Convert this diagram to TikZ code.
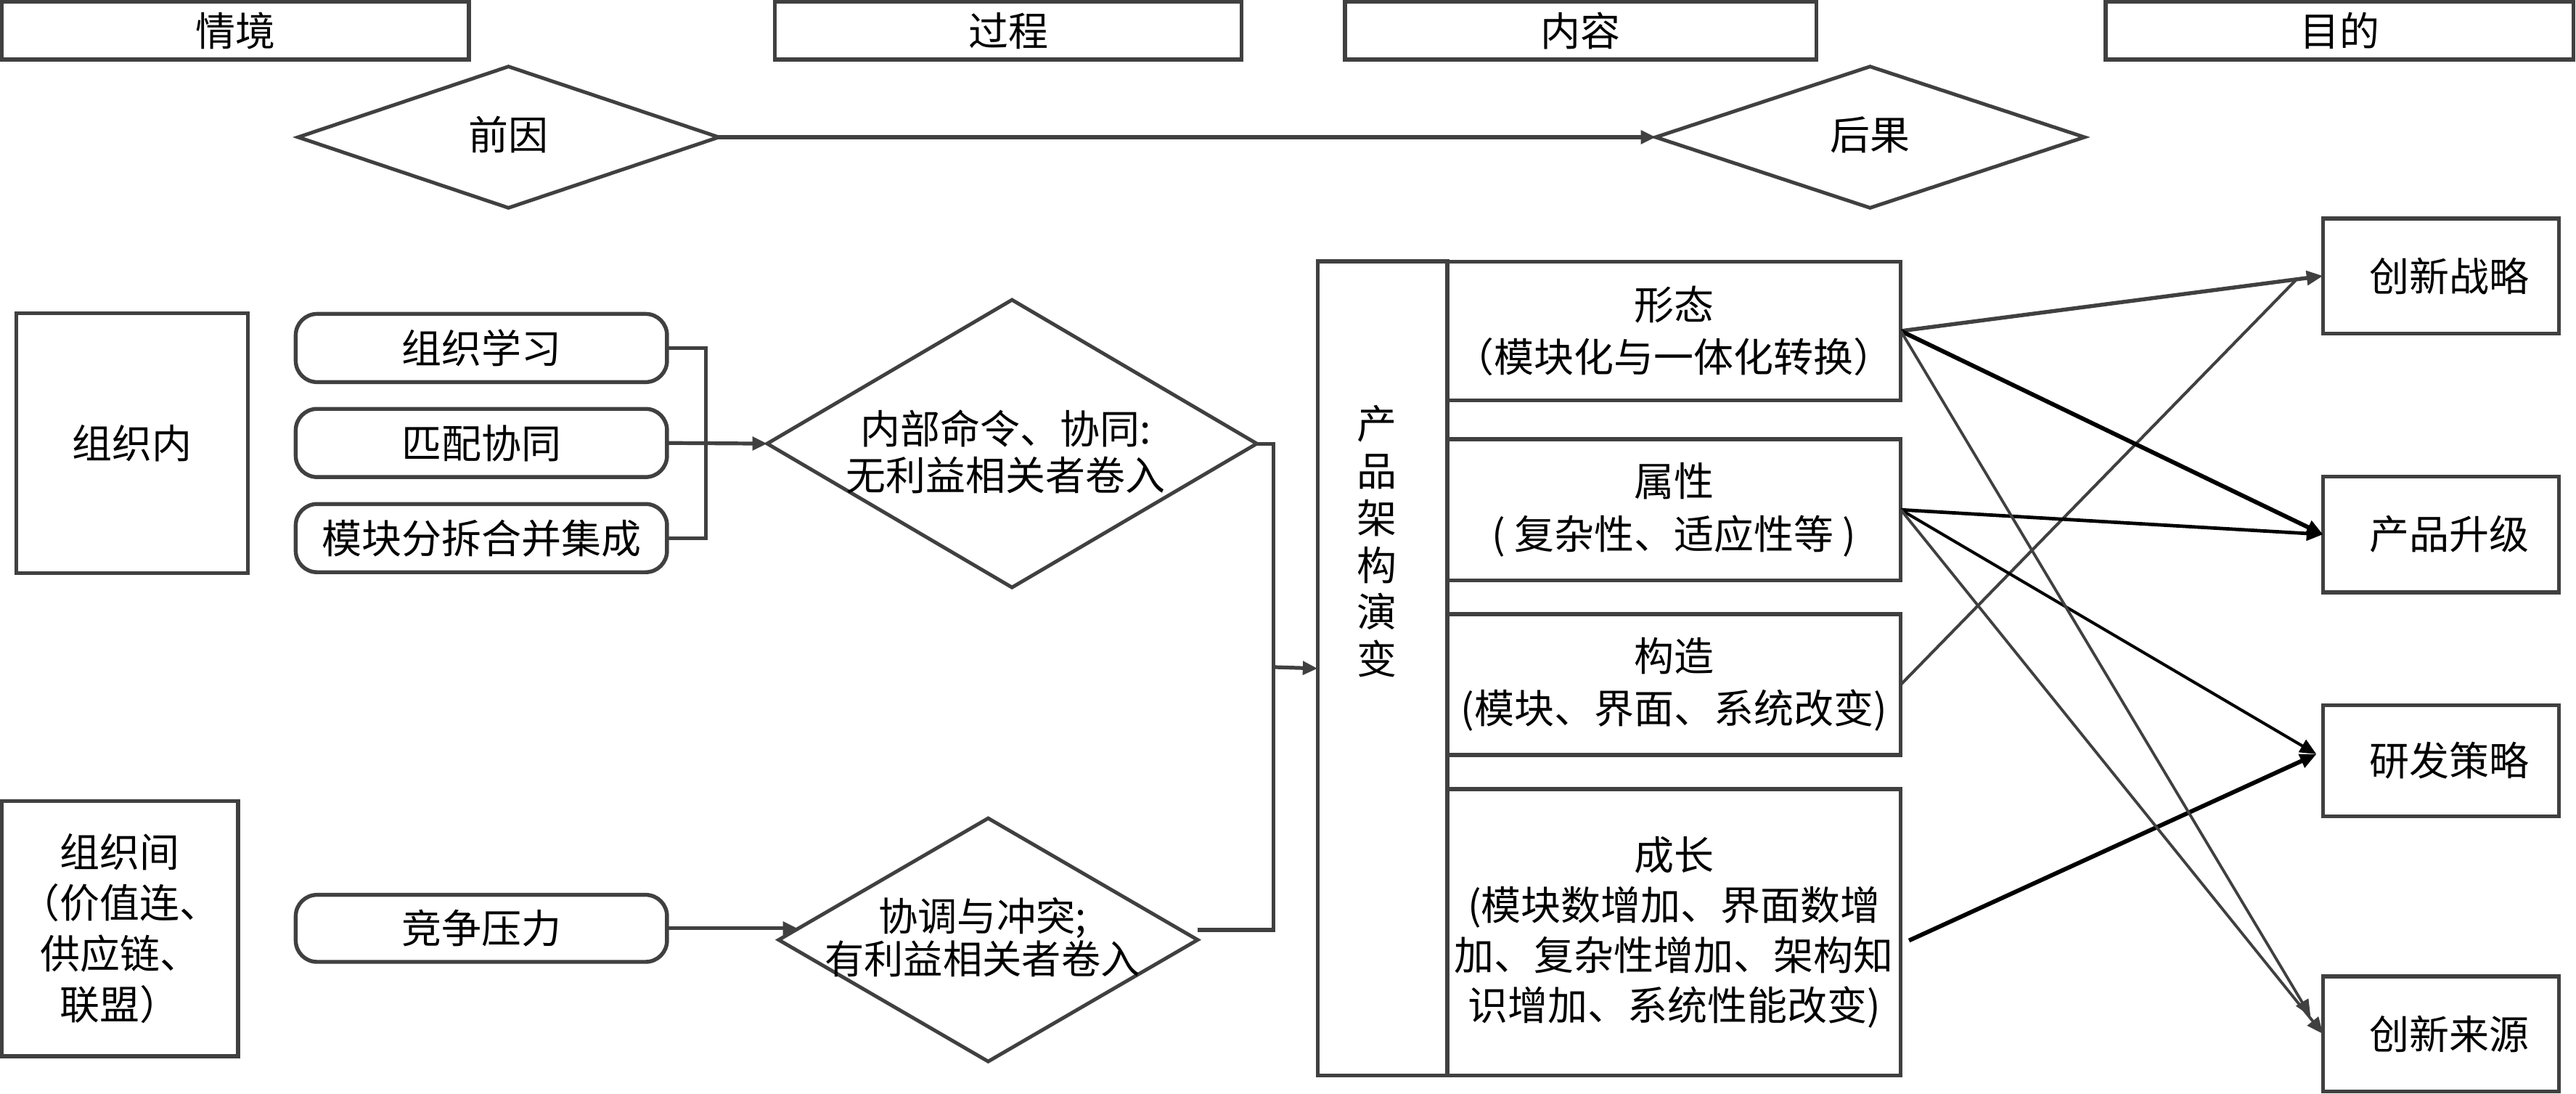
\documentclass[tikz,border=0pt]{standalone}
\usepackage{fontspec}
\setmainfont{Noto Sans CJK SC}
\usetikzlibrary{shapes.geometric,arrows.meta,calc}
\definecolor{ln}{HTML}{404040}
\begin{document}
\begin{tikzpicture}[x=1pt,y=-1pt,
  every node/.style={font=\fontsize{24.3pt}{30pt}\selectfont, inner sep=0pt, outer sep=0pt},
  box/.style={draw=ln, line width=2.4pt, rectangle},
  rbox/.style={draw=ln, line width=2.4pt, rectangle, rounded corners=13pt, minimum width=226pt, minimum height=41.5pt},
  dia/.style={draw=ln, line width=2.2pt, diamond},
  conn/.style={draw=ln, line width=2.3pt},
  gline/.style={draw=ln},
  bline/.style={draw=black},
  tipA/.style={-{Triangle[length=10pt,width=8.5pt]}},
  tipB/.style={-{Triangle[length=9pt,width=8pt]}},
  ls32/.style={align=center, font=\fontsize{24.3pt}{32pt}\selectfont},
]
\useasboundingbox (0,0) rectangle (1568,665.8);

% headers
\node[box, minimum width=284.5pt, minimum height=35pt] (h1) at (143.25,18.7) {情境};
\node[box, minimum width=284pt, minimum height=35pt] (h2) at (613.7,18.7) {过程};
\node[box, minimum width=287pt, minimum height=35pt] (h3) at (962.1,18.7) {内容};
\node[box, minimum width=284.9pt, minimum height=35pt] (h4) at (1424.05,18.7) {目的};

% antecedent / consequence
\node[dia, minimum width=256pt, minimum height=86pt] (pre) at (309.5,83.5) {};
\node (pretxt) at (309.5,82) {前因};
\node[dia, minimum width=261pt, minimum height=86pt] (post) at (1138.3,83.5) {};
\node (posttxt) at (1138.3,82) {后果};
\draw[conn, tipB] (pre.east) -- (post.west);

% context boxes
\node[box, minimum width=141pt, minimum height=158.3pt] (inner) at (80.5,269.75) {组织内};
\node[box, minimum width=143.8pt, minimum height=155.3pt, align=center,
      font=\fontsize{24.3pt}{31pt}\selectfont] (inter) at (73.1,565.1) {组织间\\（价值连、\\供应链、\\联盟）};

% process boxes
\node[rbox] (r1) at (293,211.8) {组织学习};
\node[rbox] (r2) at (293,269.6) {匹配协同};
\node[rbox] (r3) at (293,327.5) {模块分拆合并集成};
\node[rbox, minimum height=40.8pt] (r4) at (293,565) {竞争压力};

% decision diamonds
\node[dia, minimum width=298pt, minimum height=175pt] (d1) at (616,270) {};
\node[align=center, font=\fontsize{24.3pt}{28pt}\selectfont] (d1txt) at (612,275) {内部命令、协同:\\无利益相关者卷入};
\node[dia, minimum width=255pt, minimum height=148pt] (d2) at (601.5,572) {};
\node[align=center, font=\fontsize{24pt}{26pt}\selectfont] (d2txt) at (598,570.5) {协调与冲突;\\有利益相关者卷入};

% bracket and arrows into diamonds
\coordinate (bk) at (429.6,269.6);
\draw[conn] (r1.east) -| (bk) |- (r3.east);
\draw[conn, tipB] (r2.east) -- (d1.west);
\draw[conn, tipB] (r4.east) -- ($(r4.east -| d2.west)+(11.5,0)$);

% product architecture block
\node[box, minimum width=79pt, minimum height=495.5pt] (arch) at (841.5,406.85) {};
\node[align=center, font=\fontsize{24.3pt}{28.6pt}\selectfont] (archtxt) at (838,329.5) {产\\品\\架\\构\\演\\变};
\node[box, ls32, minimum width=276pt, minimum height=84.5pt] (s1) at (1019,201.45) {形态\\（模块化与一体化转换）};
\node[box, ls32, minimum width=276pt, minimum height=86pt] (s2) at (1019,310.25) {属性\\( 复杂性、适应性等 )};
\node[box, ls32, minimum width=276pt, minimum height=85.7pt] (s3) at (1019,416.65) {构造\\(模块、界面、系统改变)};
\node[box, align=center, font=\fontsize{24.3pt}{30.4pt}\selectfont, minimum width=276pt, minimum height=174.2pt] (s4) at (1019,567.4)
  {成长\\(模块数增加、界面数增\\加、复杂性增加、架构知\\识增加、系统性能改变)};

% merge line into architecture block
\coordinate (vx) at (775,406);
\draw[conn] (d1.east) -| (vx) |- ($(d2.east)+(0,-6)$);
\draw[conn, tipB] (vx) -- (arch.west);

% goals
\node[box, minimum width=143.6pt, minimum height=70pt] (t1) at (1485.8,167.9) {\hspace*{10pt}创新战略};
\node[box, minimum width=143.6pt, minimum height=70.5pt] (t2) at (1485.8,325.25) {\hspace*{10pt}产品升级};
\node[box, minimum width=143.6pt, minimum height=67.6pt] (t3) at (1485.8,463) {\hspace*{10pt}研发策略};
\node[box, minimum width=143.6pt, minimum height=70pt] (t4) at (1485.8,629.2) {\hspace*{10pt}创新来源};

% relations
\coordinate (c1) at ($(t1.west)+(-16,2)$);
\coordinate (c3) at ($(t3.west)+(-4,-4)$);
\coordinate (c4) at ($(s4.east)+(5,5)$);
\coordinate (c5) at ($(t4.west)+(-7.6,-10.7)$);
\draw[gline, line width=2.4pt, tipA] (s1.east) -- (t1.west);
\draw[gline, line width=1.8pt] (s3.east) -- (c1);
\draw[bline, line width=2.6pt, tipA] (s1.east) -- (t2.west);
\draw[bline, line width=2.1pt, tipA] (s2.east) -- (t2.west);
\draw[bline, line width=1.8pt, tipA] (s2.east) -- (c3);
\draw[bline, line width=2.6pt, tipA] (c4) -- (c3);
\draw[gline, line width=1.7pt, tipA] (s1.east) -- (c5);
\draw[gline, line width=1.7pt, tipA] (s2.east) -- (t4.west);
\end{tikzpicture}
\end{document}
